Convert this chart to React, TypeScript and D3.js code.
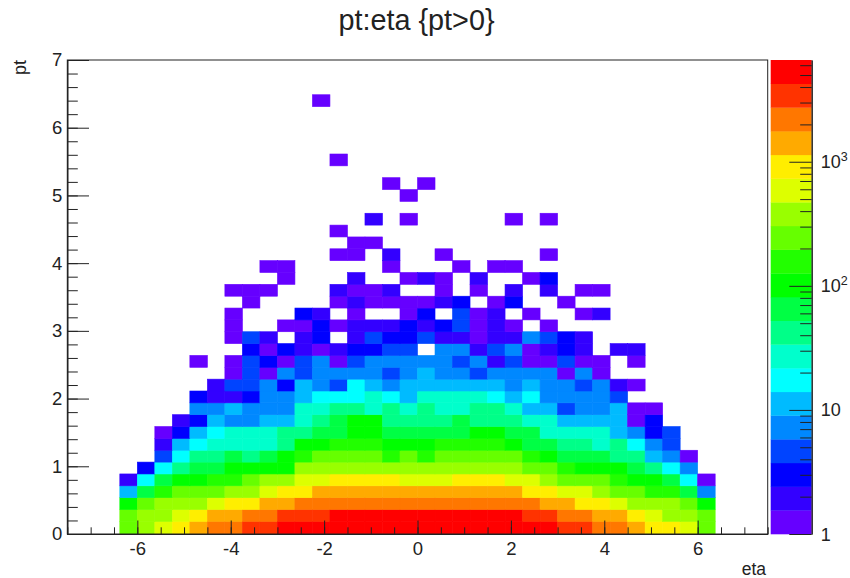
import * as d3 from 'd3';
import React, { useEffect, useRef } from 'react';

const titleText = 'pt:eta {pt>0}';
const xTitle = 'eta';
const yTitle = 'pt';

// histogram binning, 40 x 40 over the axis ranges
const etaRange = [-7.5, 7.5];
const ptRange = [0, 7];
const nBins = 40;
const firstEtaBin = 3; // rows below start at this eta bin

// ROOT default palette, lowest level first
const palette = [
  '#6600ff', '#3300ff', '#0000ff', '#0044ff', '#0088ff', '#00bbff', '#00ffff', '#00ffcc', '#00ff88', '#00ff44',
  '#00ff00', '#22ff00', '#66ff00', '#99ff00', '#ddff00', '#ffee00', '#ffaa00', '#ff7700', '#ff3300', '#ff0000',
];
const zMax = 6607;

const xMajor = [-6, -4, -2, 0, 2, 4, 6];
const xMinor = d3.range(-7.5, 7.51, 0.5);
const yMajor = [0, 1, 2, 3, 4, 5, 6, 7];
const yMinor = d3.range(0, 7.01, 0.2);
const zMajor = [1, 10, 100, 1000];
const zMinor = [2, 3, 4, 5, 6, 7, 8, 9, 20, 30, 40, 50, 60, 70, 80, 90, 200, 300, 400, 500, 600, 700, 800, 900, 2000, 3000, 4000, 5000, 6000];

// counts per pt bin (bin 0 at the bottom)
const pt00 = [225, 345, 530, 820, 1260, 1930, 1930, 2980, 2980, 4580, 4580, 4580, 4580, 4580, 4580, 4580, 4580, 4580, 4580, 4580, 4580, 4580, 4580, 4580, 4580, 2980, 2980, 1930, 1930, 1260, 820, 820, 530, 225];
const pt01 = [225, 345, 345, 530, 820, 1260, 1260, 1930, 1930, 2980, 2980, 2980, 4580, 4580, 4580, 4580, 4580, 4580, 4580, 4580, 4580, 4580, 4580, 2980, 2980, 1930, 1930, 1260, 1260, 820, 530, 345, 345, 225];
const pt02 = [95, 225, 345, 345, 345, 530, 820, 820, 1260, 1260, 1930, 1930, 1930, 1930, 1930, 1930, 1930, 1930, 1930, 1930, 1930, 1930, 1930, 1930, 1260, 1260, 820, 820, 530, 345, 345, 345, 225, 95];
const pt03 = [11, 62, 146, 225, 225, 225, 345, 345, 530, 820, 820, 1260, 1260, 1260, 1260, 1260, 1260, 1260, 1260, 1260, 1260, 1260, 1260, 820, 820, 530, 530, 345, 225, 225, 146, 146, 62, 7];
const pt04 = [2, 17, 62, 95, 95, 146, 146, 225, 345, 345, 530, 530, 820, 820, 820, 820, 530, 530, 530, 820, 820, 820, 530, 530, 345, 225, 225, 225, 146, 95, 95, 62, 17, 1];
const pt05 = [0, 3, 17, 40, 62, 62, 95, 95, 95, 95, 345, 345, 345, 345, 345, 345, 345, 345, 345, 345, 345, 345, 345, 225, 225, 146, 95, 95, 95, 62, 40, 17, 7, 0];
const pt06 = [0, 0, 5, 17, 40, 40, 62, 40, 62, 95, 146, 225, 225, 225, 225, 146, 225, 146, 225, 225, 225, 225, 225, 146, 95, 62, 62, 62, 40, 40, 11, 7, 1, 0];
const pt07 = [0, 0, 2, 11, 17, 26, 26, 26, 26, 40, 95, 95, 146, 146, 146, 95, 95, 95, 146, 146, 146, 146, 95, 62, 62, 40, 40, 26, 40, 17, 7, 5, 0, 0];
const pt08 = [0, 0, 1, 3, 11, 17, 26, 26, 26, 40, 40, 62, 62, 95, 95, 62, 62, 62, 62, 62, 95, 95, 62, 62, 26, 26, 26, 26, 11, 7, 3, 5, 0, 0];
const pt09 = [0, 0, 0, 2, 3, 11, 7, 7, 11, 11, 26, 40, 62, 95, 95, 40, 40, 40, 40, 62, 40, 40, 40, 26, 26, 11, 11, 11, 11, 1, 3, 0, 0, 0];
const pt10 = [0, 0, 0, 0, 7, 7, 11, 7, 7, 7, 26, 26, 40, 40, 26, 40, 26, 40, 26, 26, 40, 40, 26, 11, 11, 5, 7, 7, 11, 1, 1, 0, 0, 0];
const pt11 = [0, 0, 0, 0, 3, 2, 2, 3, 7, 7, 11, 17, 17, 17, 26, 17, 11, 26, 26, 26, 26, 17, 11, 17, 7, 7, 7, 7, 5, 0, 0, 0, 0, 0];
const pt12 = [0, 0, 0, 0, 0, 2, 5, 5, 7, 3, 11, 7, 5, 17, 11, 7, 11, 11, 11, 11, 11, 11, 7, 11, 7, 7, 5, 7, 2, 1, 0, 0, 0, 0];
const pt13 = [0, 0, 0, 0, 0, 0, 1, 5, 1, 7, 5, 7, 7, 7, 7, 5, 7, 11, 7, 7, 5, 7, 7, 7, 7, 1, 7, 1, 0, 0, 0, 0, 0, 0];
const pt14 = [0, 0, 0, 0, 1, 0, 1, 5, 3, 1, 5, 7, 1, 5, 7, 7, 7, 7, 7, 5, 7, 2, 5, 1, 1, 5, 1, 1, 0, 1, 0, 0, 0, 0];
const pt15 = [0, 0, 0, 0, 0, 0, 0, 3, 1, 3, 2, 1, 2, 3, 3, 5, 5, 0, 7, 7, 2, 5, 7, 1, 2, 3, 2, 0, 2, 2, 0, 0, 0, 0];
const pt16 = [0, 0, 0, 0, 0, 0, 1, 5, 2, 0, 2, 3, 0, 2, 5, 3, 3, 5, 2, 2, 1, 2, 2, 7, 5, 3, 2, 0, 0, 0, 0, 0, 0, 0];
const pt17 = [0, 0, 0, 0, 0, 0, 1, 0, 0, 1, 1, 3, 1, 2, 2, 2, 3, 2, 3, 5, 1, 2, 1, 0, 1, 0, 0, 0, 0, 0, 0, 0, 0, 0];
const pt18 = [0, 0, 0, 0, 0, 0, 1, 0, 0, 0, 3, 2, 0, 1, 0, 0, 1, 3, 0, 5, 1, 2, 0, 1, 0, 0, 1, 2, 0, 0, 0, 0, 0, 0];
const pt19 = [0, 0, 0, 0, 0, 0, 0, 1, 0, 0, 0, 0, 1, 2, 1, 1, 1, 1, 2, 3, 0, 1, 3, 0, 0, 1, 0, 0, 0, 0, 0, 0, 0, 0];
const pt20 = [0, 0, 0, 0, 0, 0, 1, 1, 1, 0, 0, 0, 2, 1, 1, 2, 0, 0, 1, 0, 1, 0, 2, 0, 2, 0, 1, 1, 0, 0, 0, 0, 0, 0];
const pt21 = [0, 0, 0, 0, 0, 0, 0, 0, 0, 1, 0, 0, 0, 2, 0, 0, 1, 2, 1, 0, 2, 0, 0, 1, 3, 0, 0, 0, 0, 0, 0, 0, 0, 0];
const pt22 = [0, 0, 0, 0, 0, 0, 0, 0, 1, 1, 0, 0, 0, 0, 0, 1, 0, 0, 0, 1, 0, 1, 1, 0, 0, 0, 0, 0, 0, 0, 0, 0, 0, 0];
const pt23 = [0, 0, 0, 0, 0, 0, 0, 0, 0, 0, 0, 0, 1, 1, 0, 2, 0, 0, 1, 0, 0, 0, 0, 0, 1, 0, 0, 0, 0, 0, 0, 0, 0, 0];
const pt24 = [0, 0, 0, 0, 0, 0, 0, 0, 0, 0, 0, 0, 0, 1, 1, 0, 0, 0, 0, 0, 0, 0, 0, 0, 0, 0, 0, 0, 0, 0, 0, 0, 0, 0];
const pt25 = [0, 0, 0, 0, 0, 0, 0, 0, 0, 0, 0, 0, 1, 0, 0, 0, 0, 0, 0, 0, 0, 0, 0, 0, 0, 0, 0, 0, 0, 0, 0, 0, 0, 0];
const pt26 = [0, 0, 0, 0, 0, 0, 0, 0, 0, 0, 0, 0, 0, 0, 2, 0, 1, 0, 0, 0, 0, 0, 1, 0, 1, 0, 0, 0, 0, 0, 0, 0, 0, 0];
const ptEmpty = [0, 0, 0, 0, 0, 0, 0, 0, 0, 0, 0, 0, 0, 0, 0, 0, 0, 0, 0, 0, 0, 0, 0, 0, 0, 0, 0, 0, 0, 0, 0, 0, 0, 0];
const pt28 = [0, 0, 0, 0, 0, 0, 0, 0, 0, 0, 0, 0, 0, 0, 0, 0, 1, 0, 0, 0, 0, 0, 0, 0, 0, 0, 0, 0, 0, 0, 0, 0, 0, 0];
const pt29 = [0, 0, 0, 0, 0, 0, 0, 0, 0, 0, 0, 0, 0, 0, 0, 1, 0, 1, 0, 0, 0, 0, 0, 0, 0, 0, 0, 0, 0, 0, 0, 0, 0, 0];
const pt31 = [0, 0, 0, 0, 0, 0, 0, 0, 0, 0, 0, 0, 1, 0, 0, 0, 0, 0, 0, 0, 0, 0, 0, 0, 0, 0, 0, 0, 0, 0, 0, 0, 0, 0];
const pt36 = [0, 0, 0, 0, 0, 0, 0, 0, 0, 0, 0, 1, 0, 0, 0, 0, 0, 0, 0, 0, 0, 0, 0, 0, 0, 0, 0, 0, 0, 0, 0, 0, 0, 0];

const counts = [
  pt00, pt01, pt02, pt03, pt04, pt05, pt06, pt07, pt08, pt09,
  pt10, pt11, pt12, pt13, pt14, pt15, pt16, pt17, pt18, pt19,
  pt20, pt21, pt22, pt23, pt24, pt25, pt26, ptEmpty, pt28, pt29,
  ptEmpty, pt31, ptEmpty, ptEmpty, ptEmpty, ptEmpty, pt36,
];

const fontFamily = '"Liberation Sans", Arial, sans-serif';
const inkColor = '#222';

export default function App() {
  const myRef = useRef<SVGSVGElement>(null);

  useEffect(() => {
    const svg = d3.select(myRef.current);
    svg.selectAll('*').remove();

    const left = 67.3, right = 767.7, top = 60, bottom = 534;
    const barLeft = 770.7, barRight = 811.7;

    // scales
    const xScale = d3.scaleLinear().domain(etaRange).range([left, right]);
    const yScale = d3.scaleLinear().domain(ptRange).range([bottom, top]);
    // the cells sit a little under a pixel above the tick marks in the reference
    const cellY = d3.scaleLinear().domain(ptRange).range([bottom - 0.8, top - 0.8]);
    const zScale = d3.scaleLog().domain([1, zMax]).range([bottom, top]);
    const colorScale = d3.scaleQuantize<string>().domain([0, Math.log10(zMax)]).range(palette);

    const etaStep = (etaRange[1] - etaRange[0]) / nBins;
    const ptStep = (ptRange[1] - ptRange[0]) / nBins;

    // cells
    const cells = counts.flatMap((row, j) =>
      row.map((value, k) => ({ i: k + firstEtaBin, j, value })).filter(d => d.value > 0)
    );

    svg.append('g')
      .selectAll('rect')
      .data(cells)
      .join('rect')
      .attr('x', d => xScale(etaRange[0] + d.i * etaStep))
      .attr('y', d => cellY(ptRange[0] + (d.j + 1) * ptStep))
      .attr('width', xScale(etaStep) - xScale(0))
      .attr('height', d => (d.j === 0 ? 0.8 : 0) + cellY(0) - cellY(ptStep))
      .attr('fill', d => colorScale(Math.log10(d.value)))
      .attr('stroke', d => colorScale(Math.log10(d.value)))
      .attr('stroke-width', 0.6);

    // frame
    svg.append('rect')
      .attr('x', left)
      .attr('y', top)
      .attr('width', right - left)
      .attr('height', bottom - top)
      .attr('fill', 'none')
      .attr('stroke', inkColor)
      .attr('stroke-width', 1);

    // x axis
    const xAxis = d3.axisBottom(xScale)
      .tickValues(xMajor)
      .tickSizeInner(-13.5)
      .tickSizeOuter(0)
      .tickPadding(8)
      .tickFormat(d => String(d));
    const xMinorAxis = d3.axisBottom(xScale)
      .tickValues(xMinor)
      .tickSizeInner(-6.7)
      .tickSizeOuter(0)
      .tickFormat(() => '');

    svg.append('g').attr('transform', `translate(0,${bottom})`).call(xAxis);
    svg.append('g').attr('transform', `translate(0,${bottom})`).call(xMinorAxis);

    // y axis
    const yAxis = d3.axisLeft(yScale)
      .tickValues(yMajor)
      .tickSizeInner(-21.7)
      .tickSizeOuter(0)
      .tickPadding(5)
      .tickFormat(d => String(d));
    const yMinorAxis = d3.axisLeft(yScale)
      .tickValues(yMinor)
      .tickSizeInner(-10.5)
      .tickSizeOuter(0)
      .tickFormat(() => '');

    svg.append('g').attr('transform', `translate(${left},0)`).call(yAxis);
    svg.append('g').attr('transform', `translate(${left},0)`).call(yMinorAxis);

    // colour bar
    const levelScale = d3.scaleLinear().domain([0, palette.length]).range([bottom, top]);
    svg.append('g')
      .selectAll('rect')
      .data(palette)
      .join('rect')
      .attr('x', barLeft)
      .attr('y', (d, index) => levelScale(index + 1))
      .attr('width', barRight - barLeft)
      .attr('height', (d, index) => levelScale(index) - levelScale(index + 1) + 0.3)
      .attr('fill', d => d);

    const zAxis = d3.axisRight(zScale)
      .tickValues(zMajor)
      .tickSizeInner(-22.4)
      .tickSizeOuter(0)
      .tickPadding(9)
      .tickFormat(() => '');
    const zMinorAxis = d3.axisRight(zScale)
      .tickValues(zMinor)
      .tickSizeInner(-11.5)
      .tickSizeOuter(0)
      .tickFormat(() => '');

    svg.append('g').attr('transform', `translate(${barRight},0)`).call(zAxis);
    svg.append('g').attr('transform', `translate(${barRight},0)`).call(zMinorAxis);

    // z labels, written by hand because of the superscripts
    const zLabels = svg.append('g')
      .selectAll('text')
      .data(zMajor)
      .join('text')
      .attr('x', barRight + 9)
      .attr('y', d => zScale(d) + 6.5)
      .attr('font-family', fontFamily)
      .attr('font-size', 18)
      .attr('fill', inkColor);
    zLabels.append('tspan').text(d => (d === 1 ? '1' : '10'));
    zLabels.filter(d => d > 10)
      .append('tspan')
      .attr('dy', -7)
      .attr('font-size', 12.5)
      .text(d => String(Math.log10(d)));

    // axis styling
    svg.selectAll('.domain').attr('stroke', inkColor);
    svg.selectAll('.tick line').attr('stroke', inkColor);
    svg.selectAll('.tick text')
      .attr('font-family', fontFamily)
      .attr('font-size', 18.5)
      .attr('fill', inkColor);

    // titles
    svg.append('text')
      .attr('x', 416.5)
      .attr('y', 29.5)
      .attr('text-anchor', 'middle')
      .attr('font-family', fontFamily)
      .attr('font-size', 28.8)
      .attr('fill', inkColor)
      .text(titleText);

    svg.append('text')
      .attr('x', 766)
      .attr('y', 575)
      .attr('text-anchor', 'end')
      .attr('font-family', fontFamily)
      .attr('font-size', 17.5)
      .attr('fill', inkColor)
      .text(xTitle);

    svg.append('text')
      .attr('transform', 'translate(26,60) rotate(-90)')
      .attr('text-anchor', 'end')
      .attr('font-family', fontFamily)
      .attr('font-size', 18)
      .attr('fill', inkColor)
      .text(yTitle);
  }, []);

  return (
    <svg
      ref={myRef}
      width={850}
      height={578}
      style={{ position: 'absolute', left: 0, top: 0, background: '#fff' }}
    />
  );
}
